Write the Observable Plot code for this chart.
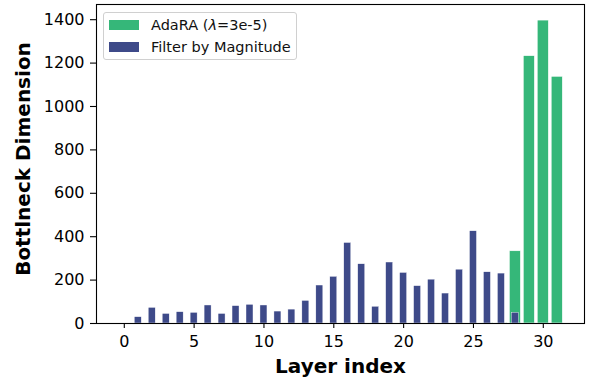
<!DOCTYPE html>
<html>
<head>
<meta charset="utf-8">
<script src="https://cdn.jsdelivr.net/npm/d3@7"></script>
<script src="https://cdn.jsdelivr.net/npm/@observablehq/plot@0.6"></script>
<style>
  html, body { margin: 0; padding: 0; background: white; }
  #wrap { position: relative; width: 589px; height: 381px; font-family: "DejaVu Sans", sans-serif; }
  .legend { position: absolute; left: 103px; top: 12px; width: 192px; height: 46px;
    border: 1px solid #d0d0d0; border-radius: 3px; background: rgba(255,255,255,0.8); }
  .legend .row { position: absolute; left: 5px; height: 16px; display: flex; align-items: center; font-size: 14.5px; color: #111; white-space: nowrap; }
  .legend .sw { width: 30px; height: 10px; margin-right: 12px; }
</style>
</head>
<body>
<div id="wrap"></div>
<script>
const layers = [0,1,2,3,4,5,6,7,8,9,10,11,12,13,14,15,16,17,18,19,20,21,22,23,24,25,26,27,28,29,30,31];
const adaraValues = [0,0,0,0,0,0,0,0,0,0,0,0,0,0,0,0,0,0,3,0,0,0,0,0,0,0,3,3,333,1232,1396,1137];
const magnitudeValues = [0,29,72,44,52,49,83,44,80,86,83,55,64,104,175,215,371,273,77,281,233,172,202,138,248,425,236,230,49,0,0,0];
const seriesNames = ["AdaRA (\u03bb=3e-5)", "Filter by Magnitude"];
const seriesColors = ["#35b779", "#3e4a89"];
const xTicks = [0,5,10,15,20,25,30];
const yTicks = [0,200,400,600,800,1000,1200,1400];

const adaraData = layers.map((l, i) => ({layer: l, value: adaraValues[i]})).filter(d => d.value > 0);
const magData = layers.map((l, i) => ({layer: l, value: magnitudeValues[i]})).filter(d => d.value > 0);

const chart = Plot.plot({
  width: 589,
  height: 381,
  marginLeft: 96,
  marginRight: 5,
  marginTop: 4,
  marginBottom: 58,
  style: {fontFamily: "DejaVu Sans, sans-serif", fontSize: "16px", color: "black", background: "white"},
  x: {domain: [-1.99, 32.95]},
  y: {domain: [0, 1470]},
  marks: [
    Plot.rect(adaraData, {x1: d => d.layer - 0.4, x2: d => d.layer + 0.4, y1: 0, y2: "value",
      fill: seriesColors[0], stroke: "white", strokeWidth: 0.6}),
    Plot.rect(magData, {x1: d => d.layer - 0.25, x2: d => d.layer + 0.25, y1: 0, y2: "value",
      fill: seriesColors[1], stroke: "white", strokeWidth: 0.4}),
    Plot.axisX({ticks: xTicks, tickFormat: d => String(d), tickSize: 5, tickPadding: 7, fontSize: 16, label: null, stroke: "black", strokeWidth: 1.1}),
    Plot.axisY({ticks: yTicks, tickFormat: d => String(d), tickSize: 6, tickPadding: 6, fontSize: 16, label: null, stroke: "black", strokeWidth: 1.1}),
    Plot.frame({stroke: "black", strokeWidth: 1.1}),
    Plot.text(["Layer index"], {frameAnchor: "bottom", dy: 43, textAnchor: "middle", lineAnchor: "middle", fontSize: 20, fontWeight: "bold"}),
    Plot.text(["Bottlneck Dimension"], {frameAnchor: "left", dx: -73, dy: -5, rotate: -90, textAnchor: "middle", lineAnchor: "middle", fontSize: 20, fontWeight: "bold"})
  ]
});

const wrap = document.getElementById("wrap");
wrap.appendChild(chart);

const legend = document.createElement("div");
legend.className = "legend";
seriesNames.forEach((name, i) => {
  const row = document.createElement("div");
  row.className = "row";
  row.style.top = (4 + i * 22) + "px";
  const sw = document.createElement("div");
  sw.className = "sw";
  sw.style.background = seriesColors[i];
  const label = document.createElement("span");
  const parts = name.split("\u03bb");
  label.appendChild(document.createTextNode(parts[0]));
  if (parts.length > 1) {
    const it = document.createElement("i");
    it.textContent = "\u03bb";
    label.appendChild(it);
    label.appendChild(document.createTextNode(parts[1]));
  }
  row.appendChild(sw);
  row.appendChild(label);
  legend.appendChild(row);
});
wrap.appendChild(legend);
</script>
</body>
</html>
